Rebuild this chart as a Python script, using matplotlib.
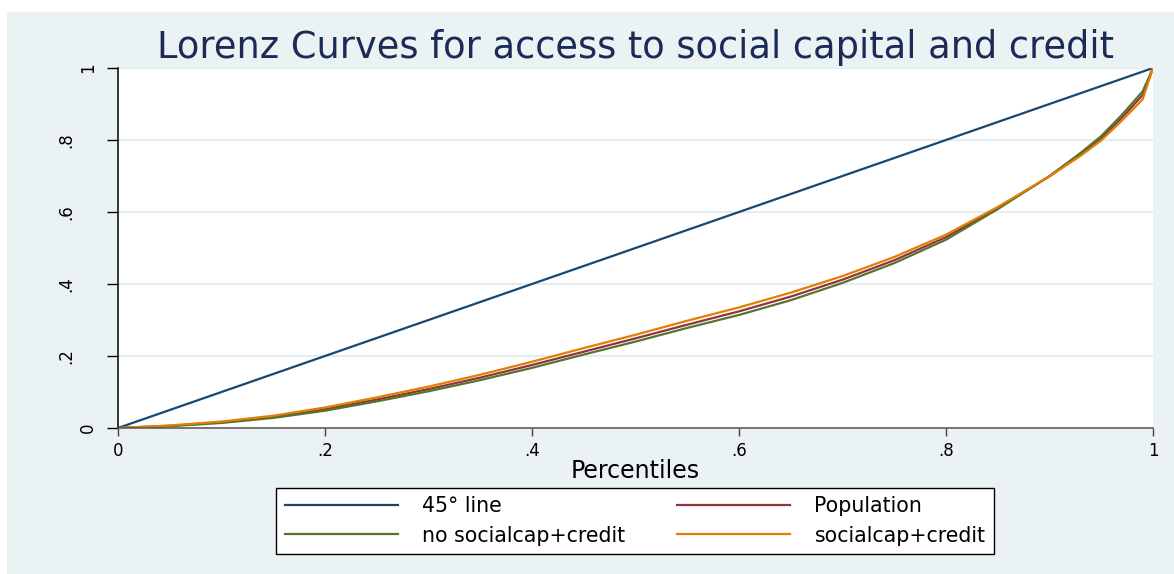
import matplotlib
matplotlib.use("Agg")
import matplotlib.pyplot as plt
from matplotlib.patches import Rectangle
from matplotlib.transforms import ScaledTranslation

# cumulative population share (percentiles)
pct = [0, .05, .10, .15, .20, .25, .30, .35, .40, .45, .50, .55, .60,
       .65, .70, .75, .80, .85, .90, .93, .95, .97, .99, 1.0]

# cumulative share of access
population = [0, .006, .016, .031, .052, .079, .108, .140, .175, .212, .249,
              .287, .324, .365, .412, .466, .530, .611, .699, .760, .805,
              .862, .925, 1.0]
no_socialcap = [0, .005, .014, .028, .048, .074, .102, .133, .167, .204, .240,
                .278, .314, .355, .403, .458, .523, .608, .700, .764, .811,
                .870, .935, 1.0]
socialcap = [0, .007, .018, .034, .057, .085, .115, .148, .184, .222, .259,
             .298, .335, .376, .422, .475, .537, .614, .699, .756, .799,
             .854, .913, 1.0]

ticks = [0, .2, .4, .6, .8, 1]
tick_labels = ["0", ".2", ".4", ".6", ".8", "1"]

W, H = 1174, 574
bg = "#eaf2f3"
plt.rcParams["font.family"] = ["DejaVu Sans"]

fig = plt.figure(figsize=(W / 100, H / 100), dpi=100, facecolor="white")
fig.add_artist(Rectangle((7 / W, 0), 1 - 7 / W, 1 - 12 / H,
                         transform=fig.transFigure, facecolor=bg,
                         edgecolor="none", zorder=-10))

ax = fig.add_axes([118 / W, 1 - 428 / H, (1153 - 118) / W, (428 - 68) / H])
ax.set_facecolor("white")

ax.plot(pct, pct, color="#1a476f", lw=1.6, label="45° line")
l_pop, = ax.plot(pct, population, color="#90353b", lw=1.6, label="Population")
l_no, = ax.plot(pct, no_socialcap, color="#55752f", lw=1.6,
                label="no socialcap+credit")
l_soc, = ax.plot(pct, socialcap, color="#e37e00", lw=1.6,
                 label="socialcap+credit")

ax.set_xlim(0, 1)
ax.set_ylim(0, 1)
ax.set_xticks(ticks)
ax.set_xticklabels(tick_labels)
ax.set_yticks(ticks)
ax.set_yticklabels(tick_labels)
ax.grid(axis="y", color="#e3ebee", lw=1.3)
ax.set_axisbelow(True)

for s in ["top", "right"]:
    ax.spines[s].set_visible(False)
ax.spines["left"].set_color("black")
ax.spines["bottom"].set_color("#555555")
ax.spines["left"].set_linewidth(1.1)
ax.spines["bottom"].set_linewidth(1.1)

ax.tick_params(axis="x", length=5.8, width=1, color="#444444",
               labelsize=12, pad=4.5)
ax.tick_params(axis="y", length=7.9, width=1, color="black",
               labelsize=12, pad=13.5)
for lbl in ax.get_yticklabels():
    lbl.set_rotation(90)
    lbl.set_ha("center")
    lbl.set_va("center")
    if lbl.get_text().startswith("."):
        lbl.set_transform(lbl.get_transform() +
                          ScaledTranslation(-0.22, 0, fig.dpi_scale_trans))

ax.set_xlabel("Percentiles", fontsize=17, labelpad=-1)
ax.set_title("Lorenz Curves for access to social capital and credit",
             fontsize=26.5, color="#1c2b55", pad=7)

handles = [ax.lines[0], l_no, l_pop, l_soc]
leg = fig.legend(handles, [h.get_label() for h in handles], ncol=2,
                 loc="center", bbox_to_anchor=(635 / W, 1 - 521 / H),
                 fontsize=14.8, frameon=True, fancybox=False,
                 edgecolor="black", facecolor="white", framealpha=1,
                 handlelength=5.5, handletextpad=1.2, columnspacing=2.5,
                 borderpad=0.4, labelspacing=0.45)
leg.get_frame().set_linewidth(1.0)

fig.savefig("out.png", dpi=100, facecolor="white")
